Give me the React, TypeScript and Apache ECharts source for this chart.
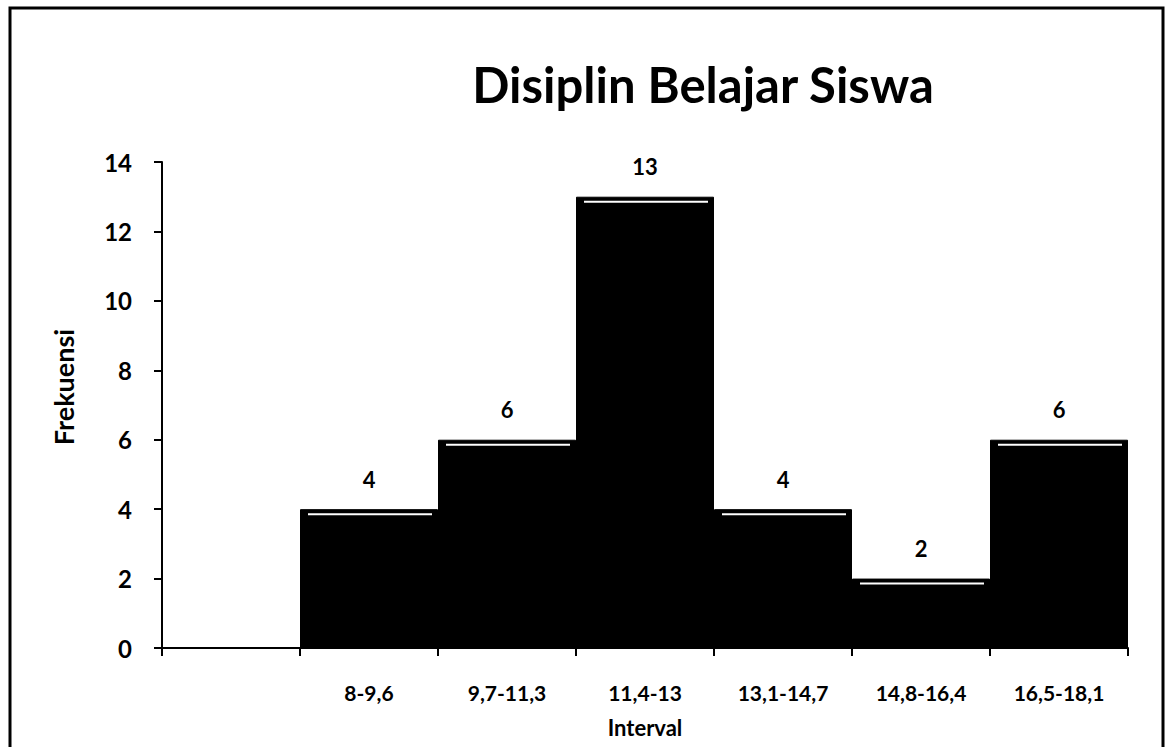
import React, { useEffect, useRef } from "react";
import * as echarts from "echarts";

const categories = ["", "8-9,6", "9,7-11,3", "11,4-13", "13,1-14,7", "14,8-16,4", "16,5-18,1"];
const frequencies: (number | null)[] = [null, 4, 6, 13, 4, 2, 6];
const yTicks = { min: 0, max: 14, interval: 2 };
const titleText = "Disiplin Belajar Siswa";
const xName = "Interval";
const yName = "Frekuensi";

const FONT = "Lato, 'Open Sans', sans-serif";

export default function App() {
  const ref = useRef<HTMLDivElement>(null);
  useEffect(() => {
    if (!ref.current) return;
    const chart = echarts.init(ref.current, undefined, { renderer: "svg" });
    chart.setOption({
      animation: false,
      backgroundColor: "#fff",
      textStyle: { fontFamily: FONT },
      grid: { left: 162, right: 38, top: 162, bottom: 99, containLabel: false },
      graphic: [
        {
          type: "rect",
          shape: { x: 10, y: 8, width: 1153, height: 800 },
          style: { fill: "none", stroke: "#000", lineWidth: 3 },
          silent: true,
        },
        {
          type: "text",
          x: 703,
          y: 84,
          style: {
            text: titleText,
            fontFamily: FONT,
            fontWeight: "bold",
            fontSize: 49,
            fill: "#000",
            textAlign: "center",
            textVerticalAlign: "middle",
          },
        },
        {
          type: "text",
          x: 63,
          y: 387,
          rotation: Math.PI / 2,
          style: {
            text: yName,
            fontFamily: FONT,
            fontWeight: "bold",
            fontSize: 27,
            fill: "#000",
            textAlign: "center",
            textVerticalAlign: "middle",
          },
        },
      ],
      xAxis: {
        type: "category",
        data: categories,
        name: xName,
        nameLocation: "middle",
        nameGap: 68,
        nameTextStyle: { fontFamily: FONT, fontWeight: "bold", fontSize: 22, color: "#000" },
        axisLine: { lineStyle: { color: "#000", width: 2 } },
        axisTick: { show: true, length: 8, alignWithLabel: false, lineStyle: { color: "#000", width: 2 } },
        axisLabel: { margin: 34, fontFamily: FONT, fontWeight: "bold", fontSize: 21, color: "#000" },
        splitLine: { show: false },
      },
      yAxis: {
        type: "value",
        min: yTicks.min,
        max: yTicks.max,
        interval: yTicks.interval,
        axisLine: { show: true, lineStyle: { color: "#000", width: 2 } },
        axisTick: { show: true, length: 8, lineStyle: { color: "#000", width: 2 } },
        axisLabel: { margin: 30, fontFamily: FONT, fontWeight: "bold", fontSize: 24, color: "#000" },
        splitLine: { show: false },
      },
      series: [
        {
          type: "bar",
          data: frequencies,
          barCategoryGap: "0%",
          itemStyle: { color: "#000", borderColor: "#000", borderWidth: 1 },
          label: {
            show: true,
            position: "top",
            distance: 19,
            fontFamily: FONT,
            fontWeight: "bold",
            fontSize: 22,
            color: "#000",
          },
          z: 2,
        },
        {
          type: "custom",
          data: frequencies.map((v, i) => [i, v]),
          z: 3,
          silent: true,
          renderItem: (params: any, api: any) => {
            const v = api.value(1);
            if (v === null || v === undefined || isNaN(v)) return null;
            const p = api.coord([api.value(0), v]);
            const w = api.size([1, 0])[0];
            return {
              type: "line",
              shape: { x1: p[0] - w / 2 + 8, y1: p[1] + 5, x2: p[0] + w / 2 - 6, y2: p[1] + 5 },
              style: { stroke: "#fff", lineWidth: 2 },
            };
          },
        },
      ],
    });
    return () => chart.dispose();
  }, []);
  return (
    <div
      ref={ref}
      style={{ position: "absolute", left: 0, top: 0, width: 1166, height: 747 }}
    />
  );
}
